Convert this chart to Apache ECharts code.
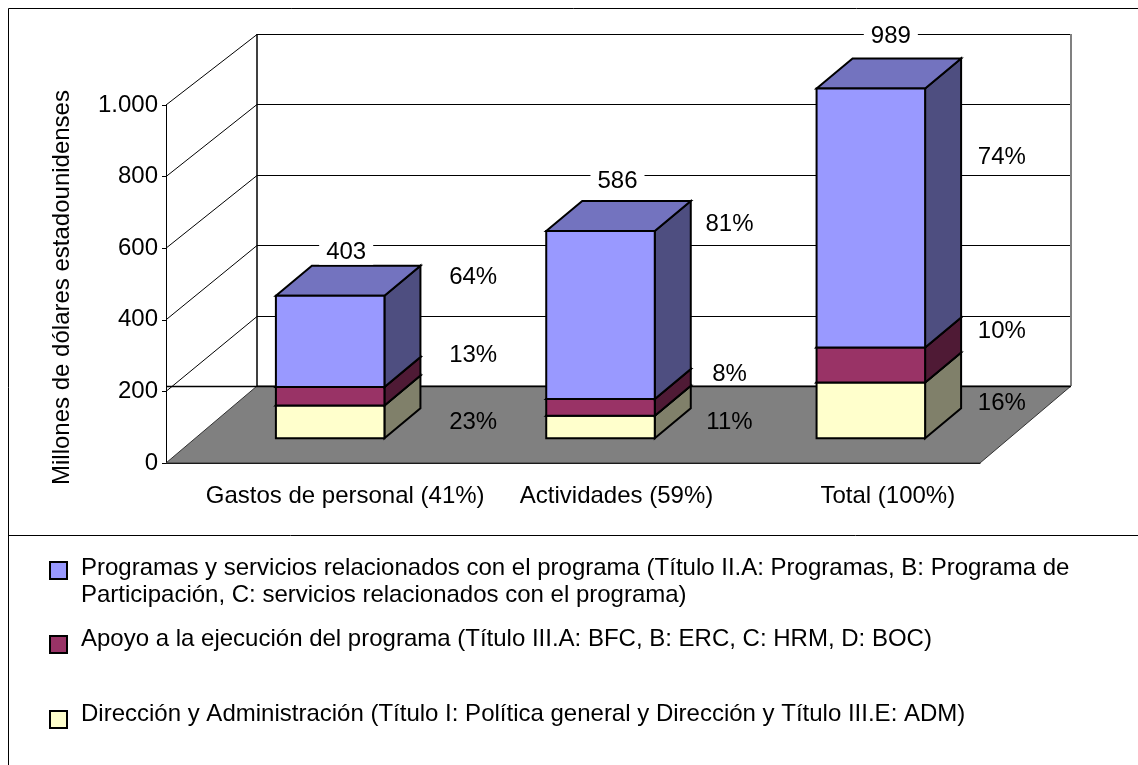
<!DOCTYPE html>
<html>
<head>
<meta charset="utf-8">
<style>
  html, body { margin: 0; padding: 0; background: #fff; }
  #chart { width: 1138px; height: 765px; }
</style>
<script src="https://cdn.jsdelivr.net/npm/echarts@6/dist/echarts.min.js"></script>
</head>
<body>
<div id="chart"></div>
<script>
const categories = ["Gastos de personal (41%)", "Actividades (59%)", "Total (100%)"];
const direccion = [93, 64, 158];
const apoyo = [52, 47, 99];
const programas = [258, 475, 732];
const totals = [403, 586, 989];
const direccionPct = ["23%", "11%", "16%"];
const apoyoPct = ["13%", "8%", "10%"];
const programasPct = ["64%", "81%", "74%"];
const yTicks = [0, 200, 400, 600, 800, 1000];
const yAxisTitle = "Millones de dólares estadounidenses";
const seriesNames = [
  "Dirección y Administración (Título I: Política general y Dirección y Título III.E: ADM)",
  "Apoyo a la ejecución del programa (Título III.A: BFC, B: ERC, C: HRM, D: BOC)",
  "Programas y servicios relacionados con el programa (Título II.A: Programas, B: Programa de Participación, C: servicios relacionados con el programa)"
];

// fake 3d projection, tuned against the picture
const WALL_DX = 91, WALL_DY = 77, WALL_SCALE = 0.983;
const BAR_SHIFT_X = [28.5, 27.5, 26.5], BAR_SHIFT_Y = 24.7, BAR_SCALE = 0.988;
const BAR_DX = 36, BAR_DY = 30;
const FONT = '24px "Liberation Sans", Arial, sans-serif';
const stacks = [direccion, apoyo, programas];
const faces = [
  { front: "#FFFFCC", side: "#80806A", top: "#BFBF99" },
  { front: "#993366", side: "#4F1A35", top: "#73264D" },
  { front: "#9999FF", side: "#4E4E80", top: "#7373BF" }
];
const pcts = [direccionPct, apoyoPct, programasPct];
// how far each label sits from the back-top corner of its segment
const pctShiftX = [143, 129, 131];
const pctShiftY = [[47, 37, 51], [-2, 5, 14], [12, 23, 99]];
const totalShift = [[16, -13], [17, -20], [20, -22]];

const crisp = v => Math.round(v) + 0.5;

function renderWalls(params, api) {
  const left = api.coord([0, 0])[0] - api.size([1, 0])[0] / 2;
  const right = left + api.size([1, 0])[0] * categories.length;
  const base = api.coord([0, 0])[1];
  const backX = left + WALL_DX;
  const backY = v => base - WALL_DY - (base - api.coord([0, v])[1]) * WALL_SCALE;
  const line = (x1, y1, x2, y2, stroke, lineWidth) => ({
    type: "line",
    shape: { x1, y1, x2, y2 },
    style: { stroke: stroke || "#000", lineWidth: lineWidth || 1 }
  });
  const children = [{
    type: "polygon",
    shape: { points: [[left, base], [backX, base - WALL_DY], [right + WALL_DX, base - WALL_DY], [right, base]] },
    style: { fill: "#808080", stroke: "#333", lineWidth: 1 }
  }];
  yTicks.forEach(v => {
    const y = crisp(backY(v));
    if (v > 0) {
      children.push(line(left, api.coord([0, v])[1], backX, y));
      children.push(line(backX, y, right + WALL_DX, y));
    }
  });
  const topY = backY(yTicks[yTicks.length - 1]);
  children.push(line(crisp(backX) - 0.5, topY, crisp(backX) - 0.5, base - WALL_DY, "#000", 1.5));
  children.push(line(right + WALL_DX, topY, right + WALL_DX, base - WALL_DY, "#808080", 2));
  children.push(line(left, base - WALL_DY + 0.5, right + WALL_DX, base - WALL_DY + 0.5, "#000", 1.5));
  return { type: "group", children };
}

function barPoint(api, cat, v) {
  const p = api.coord([cat, v]);
  const base = api.coord([cat, 0])[1];
  return [p[0] + BAR_SHIFT_X[cat], base - BAR_SHIFT_Y - (base - p[1]) * BAR_SCALE];
}

function renderSegment(stackIdx, params, api) {
  const cat = api.value(0);
  let from = 0;
  for (let i = 0; i < stackIdx; i++) from += stacks[i][cat];
  const to = from + api.value(1);
  const half = api.size([1, 0])[0] * 0.2;
  const bottom = barPoint(api, cat, from);
  const top = barPoint(api, cat, to);
  const x0 = bottom[0] - half, x1 = bottom[0] + half;
  const c = faces[stackIdx];
  const edge = { stroke: "#000", lineWidth: 2, lineJoin: "miter" };
  const face = (points, fill) => ({ type: "polygon", shape: { points }, style: Object.assign({ fill }, edge) });
  return {
    type: "group",
    children: [
      face([[x1, bottom[1]], [x1 + BAR_DX, bottom[1] - BAR_DY], [x1 + BAR_DX, top[1] - BAR_DY], [x1, top[1]]], c.side),
      face([[x0, top[1]], [x0 + BAR_DX, top[1] - BAR_DY], [x1 + BAR_DX, top[1] - BAR_DY], [x1, top[1]]], c.top),
      face([[x0, bottom[1]], [x1, bottom[1]], [x1, top[1]], [x0, top[1]]], c.front)
    ]
  };
}

function textEl(text, x, y, bg) {
  const style = { text, x, y, fill: "#000", font: FONT, align: "center", verticalAlign: "middle" };
  if (bg) {
    style.backgroundColor = "#fff";
    style.padding = [0, 7];
  }
  return { type: "text", style, z2: 10 };
}

function renderLabels(params, api) {
  const cat = api.value(0);
  const children = [];
  let sum = 0;
  stacks.forEach((s, i) => {
    sum += s[cat];
    const p = barPoint(api, cat, sum);
    children.push(textEl(pcts[i][cat], p[0] + pctShiftX[cat], p[1] - BAR_DY + pctShiftY[i][cat]));
  });
  const t = barPoint(api, cat, totals[cat]);
  children.push(textEl(String(totals[cat]), t[0] + totalShift[cat][0], t[1] - BAR_DY + totalShift[cat][1], true));
  return { type: "group", children };
}

// box sits lower than the text in the original, so the icon path carries
// invisible corner points that push the 17px square down inside its slot
function legendAt(name, top, slot, wrap) {
  return {
    data: [name],
    left: 49,
    top,
    padding: 0,
    itemWidth: 26,
    itemHeight: slot,
    itemGap: 0,
    icon: "path://M0 0L0 0M26 " + slot + "L26 " + slot + "M0 " + (slot - 17) + "H17V" + slot + "H0Z",
    selectedMode: false,
    itemStyle: { borderColor: "#000", borderWidth: 2 },
    textStyle: { fontFamily: "Liberation Sans", fontSize: 24, lineHeight: 27, color: "#000" },
    formatter: n => (wrap ? "\n" + n.replace("Programa de Participación", "Programa de\nParticipación") : n)
  };
}

const chart = echarts.init(document.getElementById("chart"));
chart.setOption({
  animation: false,
  backgroundColor: "#fff",
  graphic: [
    { type: "rect", shape: { x: 8.5, y: 8.5, width: 1200, height: 800 }, style: { fill: "none", stroke: "#000", lineWidth: 1 }, silent: true },
    { type: "line", shape: { x1: 8, y1: 535.5, x2: 1138, y2: 535.5 }, style: { stroke: "#000", lineWidth: 1 }, silent: true },
    {
      type: "text",
      x: 62,
      y: 287.5,
      rotation: Math.PI / 2,
      silent: true,
      style: { text: yAxisTitle, font: FONT, fill: "#000", align: "center", verticalAlign: "middle" }
    }
  ],
  grid: { left: 166, top: 105, width: 814, height: 358 },
  xAxis: {
    type: "category",
    data: categories,
    axisLine: { lineStyle: { color: "#000", width: 1 } },
    axisTick: { length: 5, lineStyle: { color: "#000" } },
    axisLabel: { color: "#000", fontFamily: "Liberation Sans", fontSize: 24, margin: 21, padding: [0, 0, 0, 87], interval: 0 }
  },
  yAxis: {
    type: "value",
    min: 0,
    max: 1000,
    interval: 200,
    splitLine: { show: false },
    axisLine: { show: true, lineStyle: { color: "#000", width: 1 } },
    axisTick: { show: true, length: 4, lineStyle: { color: "#000" } },
    axisLabel: {
      color: "#000",
      fontFamily: "Liberation Sans",
      fontSize: 24,
      margin: 8,
      formatter: v => (v >= 1000 ? "1.000" : String(v))
    }
  },
  legend: [
    legendAt(seriesNames[2], 527.5, 22, true),
    legendAt(seriesNames[1], 624, 28, false),
    legendAt(seriesNames[0], 699, 28, false)
  ],
  series: [
    { type: "custom", name: "walls", data: [[0, 0]], renderItem: renderWalls, silent: true, z: 1 },
    ...stacks.map((s, i) => ({
      type: "custom",
      name: seriesNames[i],
      itemStyle: { color: faces[i].front },
      data: s.map((v, c) => [c, v]),
      encode: { x: 0, y: 1 },
      renderItem: (params, api) => renderSegment(i, params, api),
      z: 2
    })),
    {
      type: "custom",
      name: "labels",
      data: categories.map((c, i) => [i, totals[i]]),
      renderItem: renderLabels,
      silent: true,
      z: 3
    }
  ]
});
</script>
</body>
</html>
